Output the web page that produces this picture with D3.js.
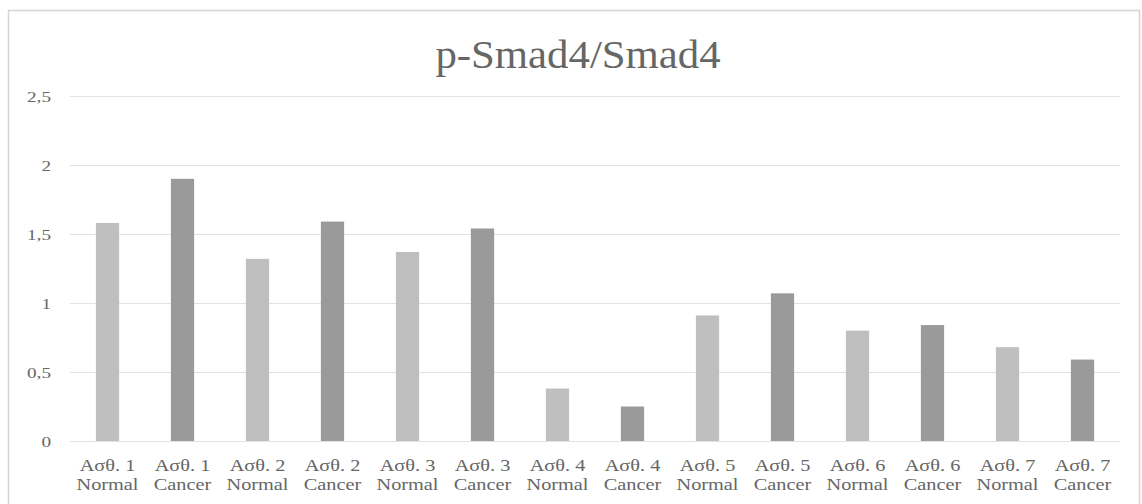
<!DOCTYPE html>
<html>
<head>
<meta charset="utf-8">
<script src="https://cdn.jsdelivr.net/npm/d3@7/dist/d3.min.js"></script>
<style>
  html, body { margin: 0; padding: 0; background: #fff; }
  svg { display: block; }
  svg text { font-family: "Liberation Serif", "Times New Roman", "DejaVu Serif", serif; }
</style>
</head>
<body>
<svg id="chart" width="1142" height="504"></svg>
<script>
// Sample labels (two lines each) and ratio values
const samples = ["Aσθ. 1", "Aσθ. 1", "Aσθ. 2", "Aσθ. 2", "Aσθ. 3", "Aσθ. 3", "Aσθ. 4",
                 "Aσθ. 4", "Aσθ. 5", "Aσθ. 5", "Aσθ. 6", "Aσθ. 6", "Aσθ. 7", "Aσθ. 7"];
const tissue = ["Normal", "Cancer", "Normal", "Cancer", "Normal", "Cancer", "Normal",
                "Cancer", "Normal", "Cancer", "Normal", "Cancer", "Normal", "Cancer"];
const ratios = [1.58, 1.90, 1.32, 1.59, 1.37, 1.54, 0.38, 0.25, 0.91, 1.07, 0.80, 0.84, 0.68, 0.59];
const yTicks = [0, 0.5, 1, 1.5, 2, 2.5];
const yTickLabels = ["0", "0,5", "1", "1,5", "2", "2,5"];
const titleText = "p-Smad4/Smad4";

const svg = d3.select("#chart");
const W = 1142, H = 504;
const margin = { left: 70, right: 22, top: 96, bottom: 63 };
const textColor = "#666666";

// chart frame
svg.append("rect")
  .attr("x", 8.5).attr("y", 10.5)
  .attr("width", 1131).attr("height", 520)
  .attr("fill", "#fff").attr("stroke", "#d4d4d4").attr("stroke-width", 1.5);

const keys = d3.range(ratios.length);
const x = d3.scaleBand()
  .domain(keys)
  .range([margin.left, W - margin.right])
  .paddingInner(0.69).paddingOuter(0.345);

const y = d3.scaleLinear()
  .domain([0, 2.5])
  .range([H - margin.bottom, margin.top]);

// gridlines
svg.append("g")
  .selectAll("line")
  .data(yTicks)
  .join("line")
  .attr("x1", margin.left).attr("x2", W - margin.right)
  .attr("y1", d => Math.round(y(d)) + 0.5).attr("y2", d => Math.round(y(d)) + 0.5)
  .attr("stroke", "#e2e2e2").attr("stroke-width", 1.2);

// y axis labels
const yAxis = d3.axisLeft(y)
  .tickValues(yTicks)
  .tickSize(0)
  .tickPadding(0)
  .tickFormat((d, i) => yTickLabels[i]);

svg.append("g")
  .attr("transform", `translate(${margin.left - 19},0)`)
  .call(yAxis)
  .call(g => g.select(".domain").remove())
  .call(g => g.selectAll("text")
    .attr("font-family", null)
    .attr("font-size", 15)
    .attr("dy", "0.36em")
    .attr("transform", "scale(1.28,1)")
    .attr("fill", textColor));

// bars
svg.append("g")
  .selectAll("rect")
  .data(keys)
  .join("rect")
  .attr("x", i => x(i))
  .attr("width", x.bandwidth())
  .attr("y", i => y(ratios[i]))
  .attr("height", i => y(0) - y(ratios[i]))
  .attr("fill", i => tissue[i] === "Normal" ? "#bfbfbf" : "#9a9a9a");

// category labels
const xAxis = d3.axisBottom(x).tickSize(0).tickFormat(() => "");
const xg = svg.append("g")
  .attr("transform", `translate(0,${y(0)})`)
  .call(xAxis)
  .call(g => g.select(".domain").remove());
xg.attr("font-family", null);
svg.selectAll("g").attr("font-family", null);

xg.selectAll(".tick").each(function(d) {
  const t = d3.select(this).append("text")
    .attr("font-size", 16)
    .attr("fill", textColor)
    .attr("text-anchor", "middle")
    .attr("transform", "scale(1.27,1)");
  t.append("tspan").attr("x", 0).attr("y", 30).text(samples[d]);
  t.append("tspan").attr("x", 0).attr("y", 49).text(tissue[d]);
});

// title
svg.append("text")
  .attr("transform", "translate(578,68) scale(1.07,1)")
  .attr("text-anchor", "middle")
  .attr("font-size", 40)
  .attr("fill", textColor)
  .text(titleText);
</script>
</body>
</html>
